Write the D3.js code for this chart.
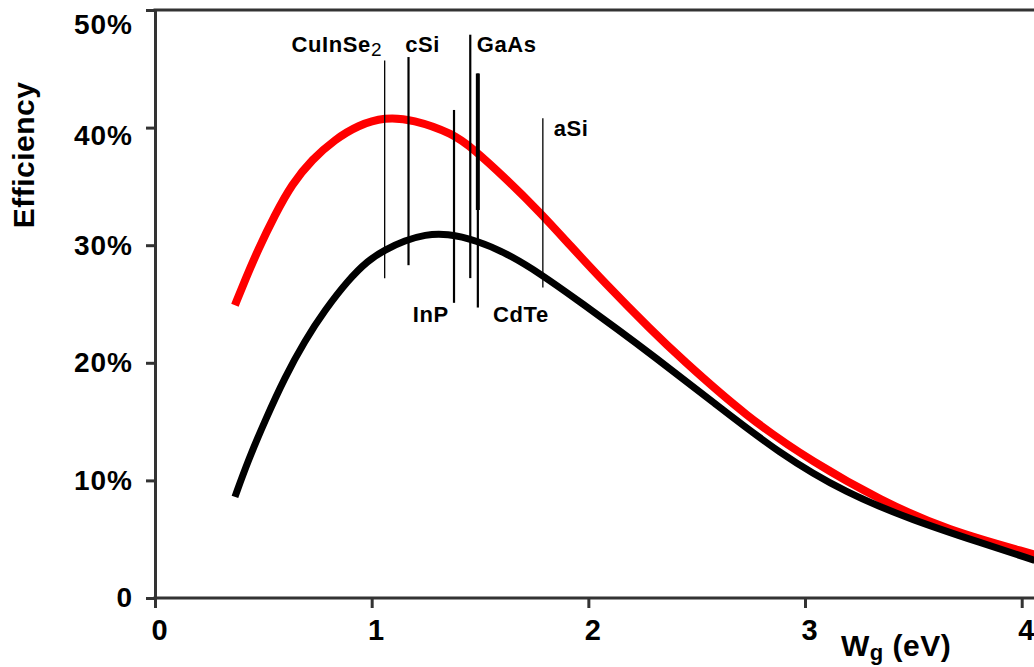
<!DOCTYPE html>
<html>
<head>
<meta charset="utf-8">
<script src="https://cdn.jsdelivr.net/npm/d3@7"></script>
<style>
  body { margin: 0; background: #fff; }
  text { font-family: "Liberation Sans", Arial, sans-serif; font-weight: bold; fill: #000; }
</style>
</head>
<body>
<svg id="chart" width="1034" height="667"></svg>
<script>
// efficiency vs band gap (eV, %)
const xTicks = [0, 1, 2, 3, 4];
const yTicks = [0, 10, 20, 30, 40, 50];

const redCurve = [
  [0.369, 24.9], [0.415, 27.0], [0.475, 29.6], [0.554, 32.6], [0.632, 35.2],
  [0.725, 37.3], [0.831, 39.0], [0.937, 40.2], [1.06, 40.9], [1.19, 40.7],
  [1.375, 39.5], [1.468, 38.2], [1.606, 35.9], [1.777, 32.8], [1.915, 30.0],
  [2.07, 26.9], [2.30, 22.6], [2.42, 20.5], [2.73, 15.4], [3.04, 11.5],
  [3.35, 8.3], [3.65, 5.8], [4.06, 3.7]
];

const blackCurve = [
  [0.369, 8.6], [0.43, 11.7], [0.508, 15.1], [0.60, 18.8], [0.692, 21.9],
  [0.785, 24.5], [0.89, 27.0], [0.983, 28.7], [1.06, 29.6], [1.154, 30.4],
  [1.246, 30.9], [1.347, 31.0], [1.486, 30.4], [1.624, 29.3], [1.777, 27.6],
  [1.96, 25.2], [2.146, 22.7], [2.284, 20.8], [2.58, 16.6], [2.88, 12.3],
  [3.19, 8.9], [3.50, 6.6], [3.81, 4.7], [4.06, 3.2]
];

// materials: band gap, marker top / bottom (%), label anchor (eV, %)
const materials = [
  { name: 'CuInSe', sub: '2', eg: 1.06, top: 45.7, bottom: 27.2, lx: 0.63, ly: 46.4 },
  { name: 'cSi', sub: '', eg: 1.17, top: 46.0, bottom: 28.3, lx: 1.155, ly: 46.4 },
  { name: 'InP', sub: '', eg: 1.38, top: 41.5, bottom: 25.1, lx: 1.19, ly: 23.5 },
  { name: 'GaAs', sub: '', eg: 1.455, top: 47.9, bottom: 27.2, lx: 1.485, ly: 46.4 },
  { name: 'CdTe', sub: '', eg: 1.49, top: 44.6, bottom: 24.7, lx: 1.56, ly: 23.5 },
  { name: 'aSi', sub: '', eg: 1.79, top: 40.8, bottom: 26.4, lx: 1.84, ly: 39.3 }
];
// the CdTe marker is drawn heavier over its upper part
const heavyMarkers = [{ eg: 1.49, top: 44.6, bottom: 33.0 }];

const width = 1034;
const svg = d3.select('#chart');

const x = d3.scaleLinear().domain([0, 4]).range([155, 1021.7]);
const y = d3.scaleLinear().domain([0, 50]).range([598, 10]);

// axes
const yAxis = d3.axisLeft(y)
  .tickValues(yTicks)
  .tickSize(9)
  .tickSizeOuter(0)
  .tickPadding(13)
  .tickFormat(d => d === 0 ? '0' : d + '%');

const xAxis = d3.axisBottom(x)
  .tickValues(xTicks)
  .tickSize(10)
  .tickSizeOuter(0)
  .tickPadding(12)
  .tickFormat(d3.format('d'));

const gx = svg.append('g')
  .attr('transform', `translate(0,${y(0)})`)
  .call(xAxis);
gx.select('.domain').remove();
gx.selectAll('line').attr('stroke', '#333').attr('stroke-width', 3);
gx.selectAll('text')
  .attr('font-size', 29)
  .attr('dx', 4)
  .attr('dy', '0.7em');

const gy = svg.append('g')
  .attr('transform', `translate(${x(0)},0)`)
  .call(yAxis);
gy.select('.domain').attr('stroke', '#333').attr('stroke-width', 3);
gy.selectAll('line').attr('stroke', '#333').attr('stroke-width', 3);
gy.selectAll('text')
  .attr('font-size', 28)
  .attr('letter-spacing', 1)
  .attr('dy', d => d === 50 ? '0.85em' : (d === 40 ? '0.62em' : '0.32em'));

// bottom and top frame lines run to the right edge
svg.append('line')
  .attr('x1', x(0) - 1.5).attr('x2', width)
  .attr('y1', y(0)).attr('y2', y(0))
  .attr('stroke', '#333').attr('stroke-width', 3);
svg.append('line')
  .attr('x1', x(0) - 1.5).attr('x2', width)
  .attr('y1', y(50)).attr('y2', y(50))
  .attr('stroke', '#333').attr('stroke-width', 3);

// curves
const line = d3.line()
  .x(d => x(d[0]))
  .y(d => y(d[1]))
  .curve(d3.curveBasis);

svg.append('path')
  .datum(redCurve)
  .attr('fill', 'none')
  .attr('stroke', '#ff0000')
  .attr('stroke-width', 8)
  .attr('d', line);

svg.append('path')
  .datum(blackCurve)
  .attr('fill', 'none')
  .attr('stroke', '#000')
  .attr('stroke-width', 7)
  .attr('d', line);

// material band gap markers
svg.selectAll('.gap')
  .data(materials)
  .enter()
  .append('line')
  .attr('class', 'gap')
  .attr('x1', d => x(d.eg))
  .attr('x2', d => x(d.eg))
  .attr('y1', d => y(d.top))
  .attr('y2', d => y(d.bottom))
  .attr('stroke', '#000')
  .attr('stroke-width', d => (d.name === 'CuInSe' || d.name === 'aSi') ? 1.3 : 2.2);

svg.selectAll('.gap-heavy')
  .data(heavyMarkers)
  .enter()
  .append('line')
  .attr('class', 'gap-heavy')
  .attr('x1', d => x(d.eg))
  .attr('x2', d => x(d.eg))
  .attr('y1', d => y(d.top))
  .attr('y2', d => y(d.bottom))
  .attr('stroke', '#000')
  .attr('stroke-width', 4);

const labels = svg.selectAll('.mat')
  .data(materials)
  .enter()
  .append('text')
  .attr('class', 'mat')
  .attr('x', d => x(d.lx))
  .attr('y', d => y(d.ly))
  .attr('font-size', 22)
  .attr('letter-spacing', 0.6);

labels.append('tspan').text(d => d.name);
labels.filter(d => d.sub)
  .append('tspan')
  .attr('font-size', 19)
  .attr('font-weight', 'normal')
  .attr('letter-spacing', 0)
  .attr('dy', 4)
  .text(d => d.sub);

// axis titles
svg.append('text')
  .attr('transform', 'translate(34,155) rotate(-90)')
  .attr('text-anchor', 'middle')
  .attr('font-size', 30)
  .attr('letter-spacing', 0.5)
  .text('Efficiency');

const xt = svg.append('text')
  .attr('x', 841)
  .attr('y', 656)
  .attr('font-size', 30)
  .attr('letter-spacing', 0.5);
xt.append('tspan').text('W');
xt.append('tspan').attr('font-size', 22).attr('dy', 4).text('g');
xt.append('tspan').attr('dy', -4).text(' (eV)');
</script>
</body>
</html>
